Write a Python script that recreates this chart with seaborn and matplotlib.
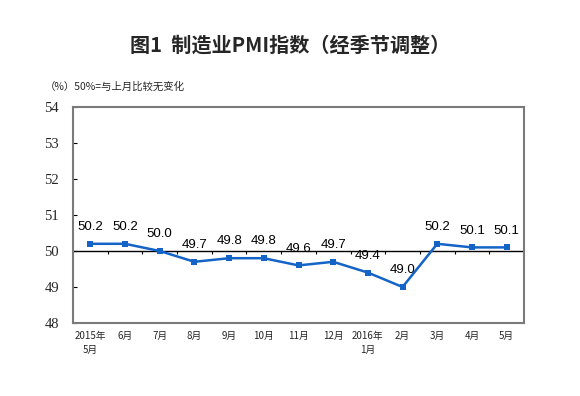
import matplotlib
matplotlib.use("Agg")
import matplotlib.pyplot as plt
import seaborn as sns
import pandas as pd

months = ["2015年\n5月", "6月", "7月", "8月", "9月", "10月", "11月", "12月",
          "2016年\n1月", "2月", "3月", "4月", "5月"]
pmi = [50.2, 50.2, 50.0, 49.7, 49.8, 49.8, 49.6, 49.7, 49.4, 49.0, 50.2, 50.1, 50.1]
yticks = [48, 49, 50, 51, 52, 53, 54]

sns.set_theme(style="white")
plt.rcParams['font.family'] = ['Noto Sans CJK SC', 'DejaVu Sans']

fig = plt.figure(figsize=(5.8, 3.96), dpi=100)
ax = fig.add_axes([73/580, 1-323/396, (524-73)/580, (323-107)/396])

df = pd.DataFrame({"month": months, "pmi": pmi})
xpos = list(range(len(months)))
sns.lineplot(x=xpos, y=pmi, ax=ax, color="#1464C8", linewidth=1.8,
             marker="s", markersize=4.5, markeredgewidth=0, legend=False)

ax.set_xlim(-0.5, len(months)-0.5)
ax.set_ylim(48, 54)
ax.axhline(50, color="black", linewidth=1, zorder=1)
# tick marks on the 50 line at category boundaries
ax.vlines([i + 0.5 for i in range(len(months)-1)], 49.91, 50, color="black", linewidth=0.8)

for x, v in zip(xpos, pmi):
    ax.text(x, v + 0.3, f"{v:.1f}", ha="center", va="bottom",
            fontsize=9.5, family=["Liberation Sans", "DejaVu Sans"], color="black")

ax.set_xticks(xpos)
ax.set_xticklabels(months, fontsize=7, linespacing=1.5)
ax.tick_params(axis="x", length=0, pad=6)
ax.set_yticks(yticks)
ax.set_yticklabels([str(t) for t in yticks], family=["Liberation Serif"], fontsize=10.5)
ax.tick_params(axis="y", direction="in", length=3, width=0.8, color="black", pad=10, left=True)
for s in ax.spines.values():
    s.set_visible(True)
    s.set_color("#7a7a7a")
    s.set_linewidth(1.5)
ax.set_xlabel("")
ax.set_ylabel("")

fig.text(0.5, 1-45/396, "图1  制造业PMI指数（经季节调整）", ha="center", va="center",
         fontsize=14.5, fontweight="bold")
fig.text(45/580, 1-87/396, "（%）50%=与上月比较无变化", ha="left", va="center", fontsize=7.5)

fig.savefig("out.png", dpi=100, facecolor="white")
